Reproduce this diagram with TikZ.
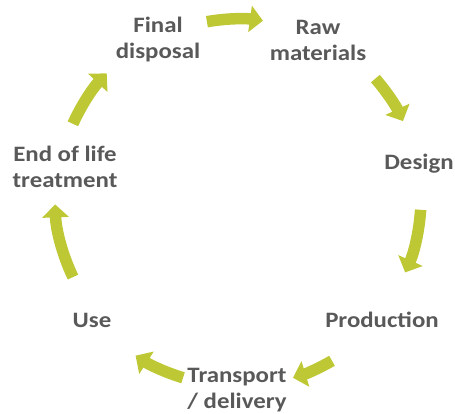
\documentclass[tikz,border=0pt]{standalone}
\usepackage{fontspec}
\setmainfont{Carlito}[FakeStretch=1.13]
\usetikzlibrary{arrows.meta}
\definecolor{txtgray}{RGB}{89,89,89}
\definecolor{leaf}{RGB}{189,200,52}
\tikzset{
  lbl/.style={font=\bfseries\fontsize{22}{26}\selectfont, text=txtgray, align=center, inner sep=0pt},
  cyc/.style={draw=leaf, line width=11.5pt, -{Triangle[width=26pt,length=13pt]}}
}
\begin{document}
\begin{tikzpicture}[x=1pt,y=-1pt]
\useasboundingbox (0,0) rectangle (455,414);
\coordinate (c) at (238,198);
\node[lbl] (fd) at (158,40) {Final\\disposal};
\node[lbl] (rm) at (318,40) {Raw\\materials};
\node[lbl] (de) at (419,164) {Design};
\node[lbl] (pr) at (382,320) {Production};
\node[lbl] (tr) at (237,390) {Transport\\/ delivery};
\node[lbl] (us) at (92,320) {Use};
\node[lbl] (eol) at (65,167) {End of life\\treatment};
\begin{scope}[y=1pt]
\draw[cyc] ([shift={(100:179pt)}]c) arc[start angle=100, end angle=82, radius=179pt];
\draw[cyc] ([shift={(41:182pt)}]c) arc[start angle=41, end angle=25, radius=182pt];
\draw[cyc] ([shift={(-3.7:183pt)}]c) arc[start angle=-3.7, end angle=-24, radius=183pt];
\draw[cyc] ([shift={(-60:188pt)}]c) arc[start angle=-60, end angle=-73, radius=188pt];
\draw[cyc] ([shift={(-107:188pt)}]c) arc[start angle=-107, end angle=-123, radius=188pt];
\draw[cyc] ([shift={(205.6:183pt)}]c) arc[start angle=205.6, end angle=182, radius=183pt];
\draw[cyc] ([shift={(155.8:181pt)}]c) arc[start angle=155.8, end angle=136.5, radius=181pt];
\end{scope}
\end{tikzpicture}
\end{document}
